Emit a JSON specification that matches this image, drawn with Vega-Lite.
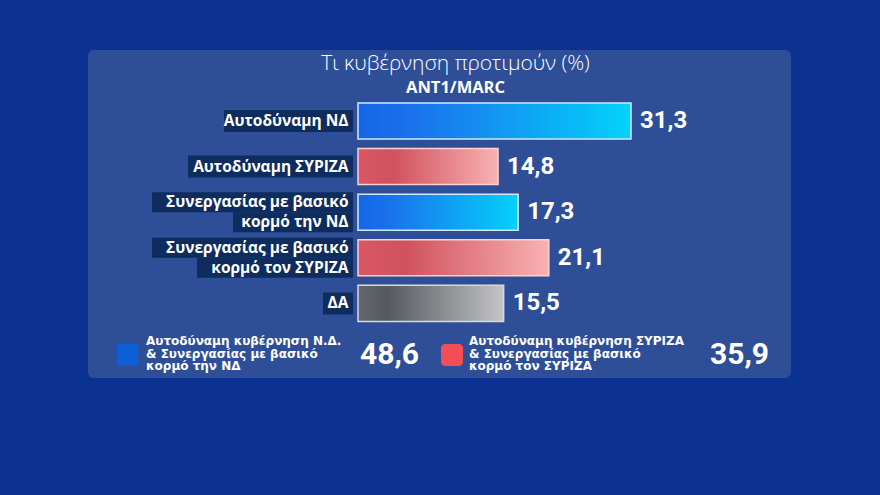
{
  "$schema": "https://vega.github.io/schema/vega-lite/v6.json",
  "width": 703,
  "height": 328,
  "autosize": {"type": "none"},
  "padding": {"left": 88, "top": 50, "right": 89, "bottom": 117},
  "background": "#0b3290",
  "config": {
    "view": {"fill": "#2f4e98", "stroke": null, "cornerRadius": 6},
    "locale": {"number": {"decimal": ",", "thousands": ".", "grouping": [3], "currency": ["", " €"]}}
  },
  "title": {
    "text": "Τι κυβέρνηση προτιμούν (%)",
    "subtitle": "ANT1/MARC",
    "anchor": "middle",
    "frame": "group",
    "offset": -46,
    "dx": 16,
    "color": "#ffffff",
    "font": "Open Sans",
    "fontWeight": 300,
    "fontSize": 21,
    "subtitleColor": "#ffffff",
    "subtitleFont": "Open Sans",
    "subtitleFontWeight": 700,
    "subtitleFontSize": 16.5,
    "subtitlePadding": 6
  },
  "datasets": {
    "bars": [
      {"cat": "Αυτοδύναμη ΝΔ", "value": 31.3, "group": "ND"},
      {"cat": "Αυτοδύναμη ΣΥΡΙΖΑ", "value": 14.8, "group": "SYRIZA"},
      {"cat": "Συνεργασίας με βασικό κορμό την ΝΔ", "value": 17.3, "group": "ND"},
      {"cat": "Συνεργασίας με βασικό κορμό τον ΣΥΡΙΖΑ", "value": 21.1, "group": "SYRIZA"},
      {"cat": "ΔΑ", "value": 15.5, "group": "DA"}
    ],
    "lines": [
      {"cat": "Αυτοδύναμη ΝΔ", "line": "Αυτοδύναμη ΝΔ", "part": "1/1"},
      {"cat": "Αυτοδύναμη ΣΥΡΙΖΑ", "line": "Αυτοδύναμη ΣΥΡΙΖΑ", "part": "1/1"},
      {"cat": "Συνεργασίας με βασικό κορμό την ΝΔ", "line": "Συνεργασίας με βασικό", "part": "1/2"},
      {"cat": "Συνεργασίας με βασικό κορμό την ΝΔ", "line": "κορμό την ΝΔ", "part": "2/2"},
      {"cat": "Συνεργασίας με βασικό κορμό τον ΣΥΡΙΖΑ", "line": "Συνεργασίας με βασικό", "part": "1/2"},
      {"cat": "Συνεργασίας με βασικό κορμό τον ΣΥΡΙΖΑ", "line": "κορμό τον ΣΥΡΙΖΑ", "part": "2/2"},
      {"cat": "ΔΑ", "line": "ΔΑ", "part": "1/1"}
    ],
    "totals": [
      {"group": "ND", "desc": "Αυτοδύναμη κυβέρνηση Ν.Δ.\n& Συνεργασίας με βασικό\nκορμό την ΝΔ", "value": 48.6},
      {"group": "SYRIZA", "desc": "Αυτοδύναμη κυβέρνηση ΣΥΡΙΖΑ\n& Συνεργασίας με βασικό\nκορμό τον ΣΥΡΙΖΑ", "value": 35.9}
    ]
  },
  "encoding": {
    "y": {
      "field": "cat",
      "type": "nominal",
      "axis": null,
      "scale": {
        "domain": ["Αυτοδύναμη ΝΔ", "Αυτοδύναμη ΣΥΡΙΖΑ", "Συνεργασίας με βασικό κορμό την ΝΔ", "Συνεργασίας με βασικό κορμό τον ΣΥΡΙΖΑ", "ΔΑ", "Σύνολα"],
        "paddingInner": 0.21,
        "paddingOuter": 0.7016,
        "align": 0.828
      }
    }
  },
  "layer": [
    {
      "data": {"name": "lines"},
      "mark": {
        "type": "rect",
        "color": "#0f2c5e",
        "width": {"expr": "length(datum.line) * 9.0 + 12"},
        "xOffset": {"expr": "-(length(datum.line) * 9.0 + 12) / 2"},
        "height": {"expr": "datum.part == '1/1' ? 22 : 20"},
        "yOffset": {"expr": "datum.part == '1/2' ? -10 : (datum.part == '2/2' ? 10 : 0)"}
      },
      "encoding": {
        "x": {"datum": -3.19, "type": "quantitative", "axis": null, "scale": {"domain": [-36.07, 51.15], "nice": false, "zero": false}}
      }
    },
    {
      "data": {"name": "lines"},
      "mark": {
        "type": "text",
        "align": "right",
        "baseline": "middle",
        "color": "#ffffff",
        "font": "Open Sans",
        "fontWeight": 700,
        "fontSize": 15.5,
        "dy": {"expr": "datum.part == '1/2' ? -10 : (datum.part == '2/2' ? 10 : 0)"}
      },
      "encoding": {
        "x": {"datum": -3.75, "type": "quantitative"},
        "text": {"field": "line"}
      }
    },
    {
      "data": {"name": "bars"},
      "transform": [{"filter": "datum.group == 'ND'"}],
      "mark": {
        "type": "bar",
        "stroke": "#cfe9ff",
        "strokeWidth": 1.5,
        "color": {"gradient": "linear", "x1": 0, "x2": 1, "y1": 0, "y2": 0, "stops": [{"offset": 0, "color": "#1466e6"}, {"offset": 0.2, "color": "#1a72ec"}, {"offset": 1, "color": "#04d2fb"}]}
      },
      "encoding": {
        "x": {"field": "value", "type": "quantitative"},
        "x2": {"datum": -2.57}
      }
    },
    {
      "data": {"name": "bars"},
      "transform": [{"filter": "datum.group == 'SYRIZA'"}],
      "mark": {
        "type": "bar",
        "stroke": "#ffd2d2",
        "strokeWidth": 1.5,
        "color": {"gradient": "linear", "x1": 0, "x2": 1, "y1": 0, "y2": 0, "stops": [{"offset": 0, "color": "#d85864"}, {"offset": 0.25, "color": "#d0525e"}, {"offset": 1, "color": "#f9b2b2"}]}
      },
      "encoding": {
        "x": {"field": "value", "type": "quantitative"},
        "x2": {"datum": -2.57}
      }
    },
    {
      "data": {"name": "bars"},
      "transform": [{"filter": "datum.group == 'DA'"}],
      "mark": {
        "type": "bar",
        "stroke": "#d9d9d9",
        "strokeWidth": 1.5,
        "color": {"gradient": "linear", "x1": 0, "x2": 1, "y1": 0, "y2": 0, "stops": [{"offset": 0, "color": "#62666e"}, {"offset": 0.2, "color": "#55595f"}, {"offset": 1, "color": "#c4c4c6"}]}
      },
      "encoding": {
        "x": {"field": "value", "type": "quantitative"},
        "x2": {"datum": -2.57}
      }
    },
    {
      "data": {"name": "bars"},
      "mark": {"type": "text", "align": "left", "baseline": "middle", "dx": 9, "color": "#ffffff", "font": "Roboto", "fontWeight": 700, "fontSize": 24},
      "encoding": {
        "x": {"field": "value", "type": "quantitative"},
        "text": {"field": "value", "type": "quantitative", "format": ".1f"}
      }
    },
    {
      "data": {"name": "totals"},
      "transform": [{"filter": "datum.group == 'ND'"}],
      "mark": {"type": "rect", "color": "#0d5fd6", "width": 22, "height": 22, "cornerRadius": 4, "yOffset": 6},
      "encoding": {
        "x": {"datum": -31.17, "type": "quantitative"},
        "y": {"datum": "Σύνολα", "type": "nominal"}
      }
    },
    {
      "data": {"name": "totals"},
      "transform": [{"filter": "datum.group == 'SYRIZA'"}],
      "mark": {"type": "rect", "color": "#f24e55", "width": 22, "height": 22, "cornerRadius": 4, "yOffset": 6},
      "encoding": {
        "x": {"datum": 9.09, "type": "quantitative"},
        "y": {"datum": "Σύνολα", "type": "nominal"}
      }
    },
    {
      "data": {"name": "totals"},
      "transform": [{"filter": "datum.group == 'ND'"}],
      "mark": {"type": "text", "align": "left", "baseline": "middle", "lineBreak": "\n", "lineHeight": 12.5, "dy": -7.5, "color": "#ffffff", "font": "DejaVu Sans", "fontWeight": 700, "fontSize": 12},
      "encoding": {
        "x": {"datum": -28.87, "type": "quantitative"},
        "y": {"datum": "Σύνολα", "type": "nominal"},
        "text": {"field": "desc"}
      }
    },
    {
      "data": {"name": "totals"},
      "transform": [{"filter": "datum.group == 'SYRIZA'"}],
      "mark": {"type": "text", "align": "left", "baseline": "middle", "lineBreak": "\n", "lineHeight": 12.5, "dy": -7.5, "color": "#ffffff", "font": "DejaVu Sans", "fontWeight": 700, "fontSize": 12},
      "encoding": {
        "x": {"datum": 11.2, "type": "quantitative"},
        "y": {"datum": "Σύνολα", "type": "nominal"},
        "text": {"field": "desc"}
      }
    },
    {
      "data": {"name": "totals"},
      "transform": [{"filter": "datum.group == 'ND'"}],
      "mark": {"type": "text", "align": "right", "baseline": "middle", "dy": 6, "color": "#ffffff", "font": "Roboto", "fontWeight": 700, "fontSize": 30},
      "encoding": {
        "x": {"datum": 5.0, "type": "quantitative"},
        "y": {"datum": "Σύνολα", "type": "nominal"},
        "text": {"field": "value", "type": "quantitative", "format": ".1f"}
      }
    },
    {
      "data": {"name": "totals"},
      "transform": [{"filter": "datum.group == 'SYRIZA'"}],
      "mark": {"type": "text", "align": "right", "baseline": "middle", "dy": 6, "color": "#ffffff", "font": "Roboto", "fontWeight": 700, "fontSize": 30},
      "encoding": {
        "x": {"datum": 48.43, "type": "quantitative"},
        "y": {"datum": "Σύνολα", "type": "nominal"},
        "text": {"field": "value", "type": "quantitative", "format": ".1f"}
      }
    }
  ]
}
